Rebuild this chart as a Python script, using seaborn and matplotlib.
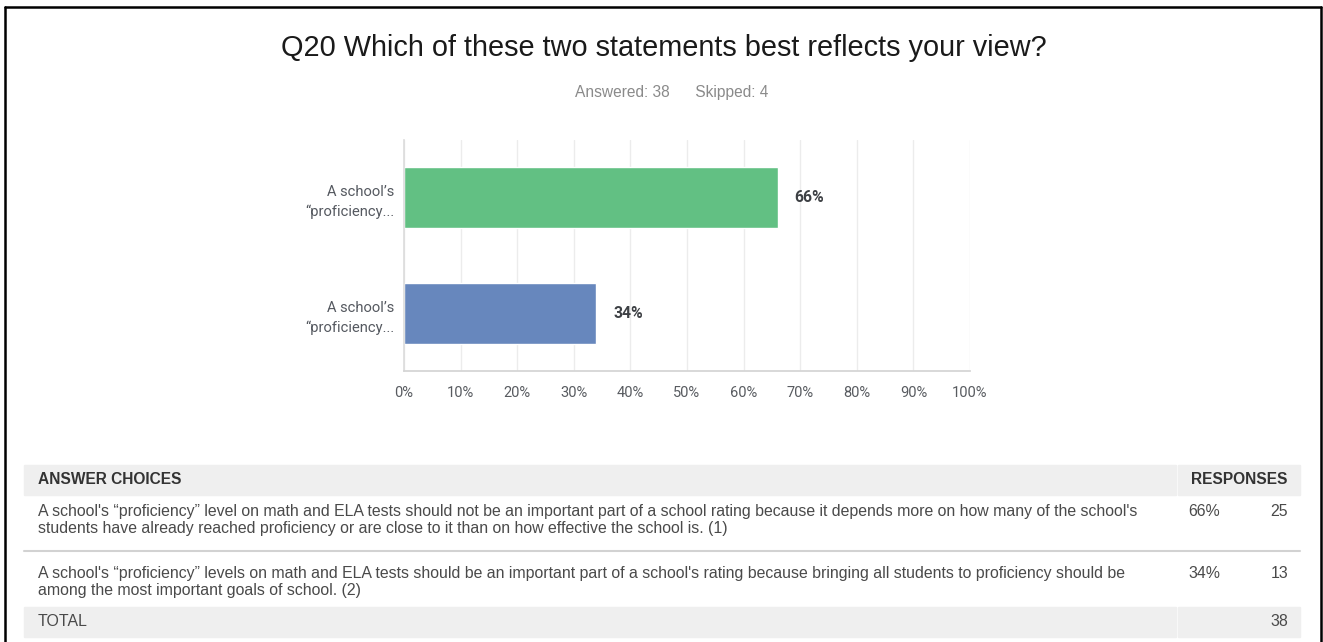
import matplotlib
matplotlib.use("Agg")
import matplotlib.pyplot as plt
import matplotlib.patches as mpatches
import matplotlib.lines as mlines
import seaborn as sns
import pandas as pd

# Survey question data
question = "Q20 Which of these two statements best reflects your view?"
answered = 38
skipped = 4
short_labels = ["A school\u2019s\n\u201cproficiency...", "A school\u2019s\n\u201cproficiency..."]
full_labels = [
    "A school's \u201cproficiency\u201d level on math and ELA tests should not be an important part of a school rating because it depends more on how many of the school's\nstudents have already reached proficiency or are close to it than on how effective the school is. (1)",
    "A school's \u201cproficiency\u201d levels on math and ELA tests should be an important part of a school's rating because bringing all students to proficiency should be\namong the most important goals of school. (2)",
]
percents = [66, 34]
counts = [25, 13]
total = 38
bar_colors = ["#62C083", "#6787BD"]
x_ticks = [0, 10, 20, 30, 40, 50, 60, 70, 80, 90, 100]

W, H = 1323, 642
sns.set_theme(style="white")
plt.rcParams["font.family"] = ["Liberation Sans", "DejaVu Sans"]

fig = plt.figure(figsize=(W / 100, H / 100), dpi=100)
fig.patch.set_facecolor("white")


def fx(px):
    return px / W


def fy(py):
    return 1 - py / H


# Bar chart
ax = fig.add_axes([fx(404), fy(371), fx(970) - fx(404), fy(140) - fy(371)])
df = pd.DataFrame({"label": [f"c{i}" for i in range(len(percents))], "pct": percents})
sns.barplot(data=df, x="pct", y="label", hue="label", palette=bar_colors,
            orient="h", width=0.53, legend=False, ax=ax, saturation=1)
ax.set_xlim(0, 100)
ax.set_ylim(1.5, -0.5)
ax.set_xticks(x_ticks)
ax.set_xticklabels([f"{t}%" for t in x_ticks], fontfamily="Roboto", fontsize=10.5, color="#585b60")
ax.set_yticks(range(len(short_labels)))
ax.set_yticklabels(short_labels, fontfamily="Roboto", fontsize=10.6, color="#555960",
                   ha="right", linespacing=1.5)
ax.tick_params(axis="x", length=0, pad=11)
ax.tick_params(axis="y", length=0, pad=7)
ax.set_xlabel("")
ax.set_ylabel("")
ax.set_axisbelow(True)
ax.grid(axis="x", color="#ececec", linewidth=1)
ax.grid(axis="y", visible=False)
for side in ["top", "right"]:
    ax.spines[side].set_visible(False)
ax.spines["left"].set_color("#dddddd")
ax.spines["bottom"].set_color("#d4d4d4")
for i, p in enumerate(percents):
    ax.text(p + 3, i, f"{p}%", va="center", ha="left", fontfamily="Roboto",
            fontsize=11.3, fontweight="bold", color="#3d4044")

# Title and summary
fig.text(fx(664), fy(56), question, ha="center", va="baseline", fontsize=20.8,
         color="#1a1a1a")
fig.text(fx(672), fy(97), f"Answered: {answered}      Skipped: {skipped}", ha="center",
         va="baseline", fontsize=11.2, color="#8a8a8a")

# Responses table
band = "#efefef"
tl, tr, split = 24, 1300, 1177
for y0, y1 in [(465, 495), (607, 637)]:
    fig.patches.append(mpatches.Rectangle((fx(tl), fy(y1)), fx(split - 1) - fx(tl), fy(y0) - fy(y1),
                                          transform=fig.transFigure, color=band, zorder=0))
    fig.patches.append(mpatches.Rectangle((fx(split + 1), fy(y1)), fx(tr) - fx(split + 1), fy(y0) - fy(y1),
                                          transform=fig.transFigure, color=band, zorder=0))
fig.lines.append(mlines.Line2D([fx(tl), fx(tr)], [fy(551), fy(551)], transform=fig.transFigure,
                               color="#d2d2d2", linewidth=1.5))

tcol = "#4a4a4a"
fs = 11.4
fig.text(fx(38), fy(480), "ANSWER CHOICES", ha="left", va="center", fontsize=fs - 0.2,
         fontweight="bold", color="#333333")
fig.text(fx(1288), fy(480), "RESPONSES", ha="right", va="center", fontsize=fs - 0.2,
         fontweight="bold", color="#333333")
row_baselines = [516, 578]
line_step = 17
for base, lab, p, c in zip(row_baselines, full_labels, percents, counts):
    for k, line in enumerate(lab.split("\n")):
        fig.text(fx(38), fy(base + k * line_step), line, ha="left", va="baseline",
                 fontsize=fs, color=tcol)
    fig.text(fx(1188), fy(base), f"{p}%", ha="left", va="baseline", fontsize=fs, color=tcol)
    fig.text(fx(1288), fy(base), f"{c}", ha="right", va="baseline", fontsize=fs, color=tcol)
fig.text(fx(38), fy(622), "TOTAL", ha="left", va="center", fontsize=fs, color=tcol)
fig.text(fx(1288), fy(622), f"{total}", ha="right", va="center", fontsize=fs, color=tcol)

# Outer frame
for xs, ys in [([5, 5], [7, 642]), ([5, 1321], [7, 7]), ([1321, 1321], [7, 642])]:
    fig.lines.append(mlines.Line2D([fx(x) for x in xs], [fy(y) for y in ys],
                                   transform=fig.transFigure, color="black", linewidth=1.8))

fig.savefig("out.png", dpi=100)
